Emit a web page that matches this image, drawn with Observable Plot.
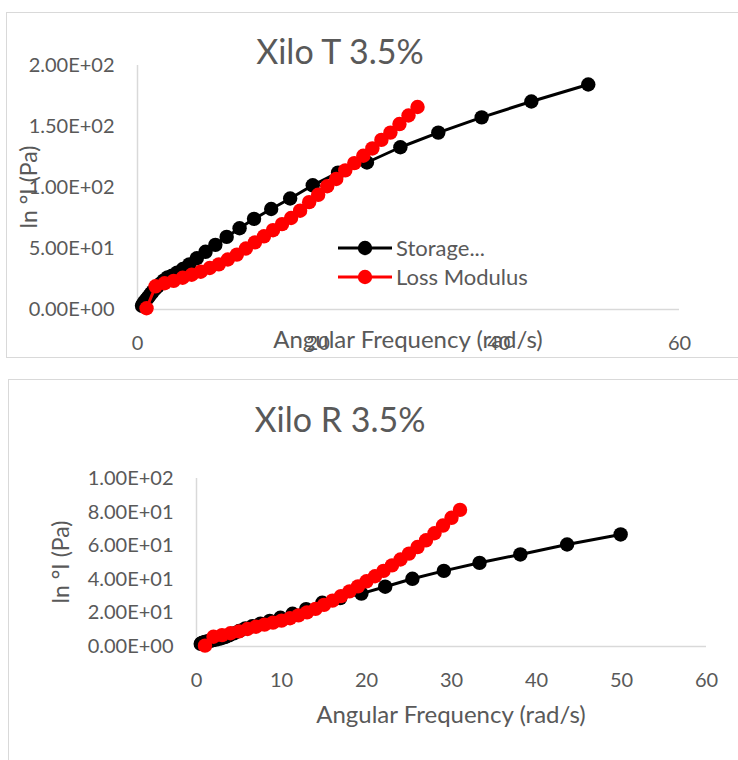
<!DOCTYPE html>
<html>
<head>
<meta charset="utf-8">
<script src="https://cdn.jsdelivr.net/npm/d3@7"></script>
<script src="https://cdn.jsdelivr.net/npm/@observablehq/plot@0.6"></script>
<style>
  body { margin: 0; background: #fff; font-family: Lato, "Open Sans", sans-serif; color: #595959; }
  #page { position: relative; width: 738px; height: 760px; overflow: hidden; background: #fff; }
  .panel { position: absolute; border: 1.5px solid #d9d9d9; box-sizing: border-box; }
  .chart { position: absolute; left: 0; }
</style>
</head>
<body>
<div id="page">
  <div class="panel" style="left:6px;top:12px;width:740px;height:346px"></div>
  <div class="panel" style="left:8px;top:379px;width:740px;height:400px"></div>
  <div class="chart" id="chartT" style="top:0px"></div>
  <div class="chart" id="chartR" style="top:370px"></div>
</div>
<script>
// Series
const seriesNames = ["Storage Modulus", "Loss Modulus"];
const legendLabels = ["Storage...", "Loss Modulus"];
const seriesColors = ["#000000", "#ff0000"];

// Angular frequency (rad/s)
const storageFreq = [0.5, 0.57, 0.66, 0.75, 0.86, 0.99, 1.13, 1.3, 1.49, 1.7, 1.95, 2.23, 2.55, 2.92, 3.34, 3.83, 4.38, 5.02, 5.74, 6.57, 7.53, 8.62, 9.87, 11.3, 12.9, 14.8, 16.9, 19.4, 22.2, 25.4, 29.1, 33.3, 38.1, 43.6, 49.9];
const lossFreq = [1, 2, 3, 4, 5, 6, 7, 8, 9, 10, 11, 12, 13, 14, 15, 16, 17, 18, 19, 20, 21, 22, 23, 24, 25, 26, 27, 28, 29, 30, 31];

// Xilo T 3.5% (Pa)
const storageT = [3, 3.8, 4.8, 5.8, 7, 8.2, 9.6, 11.2, 13, 14.8, 16.8, 19, 21.3, 23.8, 26.3, 27.8, 30.2, 33.2, 37, 42, 47.3, 53, 59.5, 66.6, 74.3, 82.4, 91, 101.8, 112.2, 120.5, 133, 145, 157.5, 170.5, 184.4];
const lossT = [1, 19, 21.5, 23.5, 26, 28.5, 31, 34, 37, 41, 45, 50, 55, 60, 65, 70, 75, 81, 88, 94, 101, 107, 114, 120, 126, 132, 139, 145, 152, 159, 166];

// Xilo R 3.5% (Pa)
const storageR = [1.6, 1.8, 2.0, 2.2, 2.4, 2.6, 2.8, 3.0, 3.2, 3.5, 3.8, 4.1, 4.5, 4.9, 5.6, 6.6, 7.8, 9.2, 10.8, 12.1, 13.6, 15.2, 17.1, 19.5, 22.2, 26.0, 28.8, 31.5, 35.6, 40.3, 45, 49.8, 54.8, 60.7, 66.7];
const lossR = [0.5, 5.8, 6.8, 7.9, 9.0, 10.4, 11.8, 13.0, 14.2, 15.4, 16.8, 18.5, 20.3, 22.4, 24.8, 27.3, 30.0, 32.8, 35.8, 38.8, 41.8, 45, 48.3, 51.8, 55.3, 59.2, 63.2, 67.4, 72, 76.6, 81.3];

// Axis ticks
const xTicksT = [0, 20, 40, 60];
const yTicksT = [0, 50, 100, 150, 200];
const xTicksR = [0, 10, 20, 30, 40, 50, 60];
const yTicksR = [0, 20, 40, 60, 80, 100];

const xLabel = "Angular Frequency (rad/s)";
const yLabel = "ln °I (Pa)";

// Spreadsheet-style scientific notation: 1.50E+02
const sci = v => {
  const [m, e] = v.toExponential(2).split("e");
  const sign = e[0] === "-" ? "-" : "+";
  return `${m}E${sign}${e.replace(/[+-]/, "").padStart(2, "0")}`;
};

function rowsFor(storage, loss) {
  return [
    ...storageFreq.map((f, i) => ({series: seriesNames[0], freq: f, g: storage[i]})),
    ...lossFreq.map((f, i) => ({series: seriesNames[1], freq: f, g: loss[i]}))
  ];
}

function chart({storage, loss, xTicks, yTicks, height, margins, title, titleX, titleY, xLabelY, yLabelX, legend}) {
  const rows = rowsFor(storage, loss);
  const bySeries = name => rows.filter(d => d.series === name);
  const marks = [
    Plot.ruleY([0], {stroke: "#d9d9d9", strokeWidth: 1.5}),
    Plot.ruleX([0], {stroke: "#d9d9d9", strokeWidth: 1.5}),
    Plot.axisX({ticks: xTicks, tickSize: 0, tickPadding: 26, label: null, fontSize: 20}),
    Plot.axisY({ticks: yTicks, tickSize: 0, tickPadding: 23, label: null, tickFormat: sci, fontSize: 20})
  ];
  for (const name of seriesNames) {
    marks.push(Plot.line(bySeries(name), {x: "freq", y: "g", stroke: "series", strokeWidth: 3}));
    marks.push(Plot.dot(bySeries(name), {x: "freq", y: "g", fill: "series", r: 7.2}));
  }
  const svg = Plot.plot({
    width: 738,
    height,
    ...margins,
    x: {domain: [0, 60]},
    y: {domain: [0, yTicks[yTicks.length - 1]]},
    color: {domain: seriesNames, range: seriesColors},
    style: {fontFamily: "Lato, 'Open Sans', sans-serif", color: "#595959", background: "transparent", overflow: "visible"},
    marks
  });

  // Titles, axis titles and legend on top of the plot
  const s = d3.select(svg);
  const g = s.append("g").attr("fill", "#595959").attr("font-family", "Lato, 'Open Sans', sans-serif");
  g.append("text").attr("x", titleX).attr("y", titleY).attr("text-anchor", "middle")
    .attr("font-size", 34).text(title);
  const cx = (margins.marginLeft + 738 - margins.marginRight) / 2;
  g.append("text").attr("x", cx).attr("y", xLabelY).attr("text-anchor", "middle")
    .attr("font-size", 24).text(xLabel);
  const cy = (margins.marginTop + height - margins.marginBottom) / 2;
  g.append("text").attr("transform", `translate(${yLabelX},${cy}) rotate(-90)`)
    .attr("text-anchor", "middle").attr("font-size", 23).text(yLabel);
  if (legend) {
    seriesNames.forEach((name, i) => {
      const y = legend.y + i * legend.step;
      const lg = g.append("g");
      lg.append("line").attr("x1", legend.x).attr("x2", legend.x + 54).attr("y1", y).attr("y2", y)
        .attr("stroke", seriesColors[i]).attr("stroke-width", 3);
      lg.append("circle").attr("cx", legend.x + 27).attr("cy", y).attr("r", 7.2).attr("fill", seriesColors[i]);
      lg.append("text").attr("x", legend.x + 58).attr("y", y).attr("dy", "0.35em")
        .attr("text-anchor", "start").attr("font-size", 22).text(legendLabels[i]);
    });
  }
  return svg;
}

document.getElementById("chartT").append(chart({
  storage: storageT, loss: lossT, xTicks: xTicksT, yTicks: yTicksT,
  height: 370,
  margins: {marginTop: 65, marginLeft: 137, marginBottom: 61, marginRight: 59},
  title: "Xilo T 3.5%", titleX: 340, titleY: 64,
  xLabelY: 348, yLabelX: 37,
  legend: {x: 338, y: 248, step: 29}
}));

document.getElementById("chartR").append(chart({
  storage: storageR, loss: lossR, xTicks: xTicksR, yTicks: yTicksR,
  height: 390,
  margins: {marginTop: 108, marginLeft: 196, marginBottom: 114, marginRight: 32},
  title: "Xilo R 3.5%", titleX: 340, titleY: 62,
  xLabelY: 353, yLabelX: 69,
  legend: null
}));
</script>
</body>
</html>
